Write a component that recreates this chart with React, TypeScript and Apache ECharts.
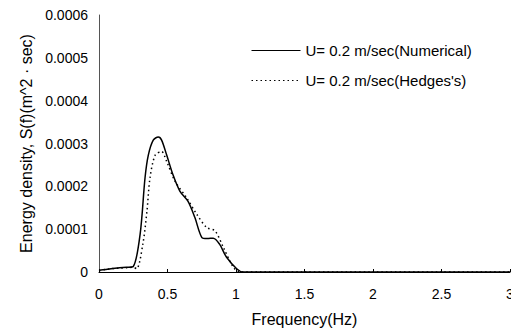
import React, { useEffect, useRef } from "react";
import * as echarts from "echarts";

const numericalX = [0, 0.05, 0.1, 0.15, 0.2, 0.25, 0.3, 0.336, 0.36, 0.396, 0.433, 0.457, 0.494, 0.54, 0.59, 0.65, 0.7, 0.75, 0.79, 0.834, 0.88, 0.93, 1.005, 1.05, 1.5, 2, 2.5, 3];
const numericalY = [0.000004, 0.000006, 0.000008, 0.00001, 0.000011, 0.000013, 0.000088, 0.00022, 0.000273, 0.000308, 0.000315, 0.000308, 0.000273, 0.000227, 0.000189, 0.000165, 0.000127, 0.000081, 0.000078, 0.000079, 0.000065, 0.000035, 0.0000077, 0, 0, 0, 0, 0];

const hedgesX = [0, 0.05, 0.1, 0.15, 0.2, 0.25, 0.275, 0.32, 0.35, 0.372, 0.41, 0.457, 0.494, 0.555, 0.64, 0.713, 0.786, 0.847, 0.907, 0.98, 1.03, 1.5, 2, 2.5, 3];
const hedgesY = [0.000003, 0.000006, 0.000008, 0.000009, 0.00001, 0.000011, 0.0000077, 0.000065, 0.000142, 0.000219, 0.000273, 0.000281, 0.000258, 0.000212, 0.000173, 0.000135, 0.000104, 0.000096, 0.000058, 0.0000115, 0, 0, 0, 0, 0];

const xTicks = [0, 0.5, 1, 1.5, 2, 2.5, 3];
const yTicks = [0, 0.0001, 0.0002, 0.0003, 0.0004, 0.0005, 0.0006];

const seriesNames = ["U= 0.2 m/sec(Numerical)", "U= 0.2 m/sec(Hedges's)"];

export default function App() {
  const ref = useRef<HTMLDivElement>(null);
  useEffect(() => {
    if (!ref.current) return;
    const chart = echarts.init(ref.current, undefined, { renderer: "svg" });
    const font = "Liberation Sans, Arial, sans-serif";
    chart.setOption({
      animation: false,
      backgroundColor: "#ffffff",
      textStyle: { fontFamily: font, color: "#000" },
      grid: { left: 99, right: 9, top: 15, bottom: 57, containLabel: false },
      legend: {
        orient: "vertical",
        left: 246,
        top: 38,
        itemWidth: 49,
        itemHeight: 14,
        itemGap: 15,
        itemStyle: { opacity: 0 },
        lineStyle: { width: 1 },
        textStyle: { fontFamily: font, fontSize: 15, color: "#000" },
        data: seriesNames,
      },
      xAxis: {
        type: "value",
        min: 0,
        max: 3,
        interval: 0.5,
        name: "Frequency(Hz)",
        nameLocation: "middle",
        nameGap: 39,
        nameTextStyle: { fontFamily: font, fontSize: 16, color: "#000" },
        axisLine: { show: true, lineStyle: { color: "#000", width: 1 } },
        axisTick: { show: true, inside: true, length: 3, lineStyle: { color: "#000" } },
        axisLabel: {
          fontFamily: font,
          fontSize: 14,
          color: "#000",
          margin: 15,
          formatter: (v: number) => (xTicks.includes(v) ? String(v) : ""),
        },
        splitLine: { show: false },
      },
      yAxis: {
        type: "value",
        min: 0,
        max: 0.0006,
        interval: 0.0001,
        name: "Energy density, S(f)(m^2 · sec)",
        nameLocation: "middle",
        nameGap: 62,
        nameTextStyle: { fontFamily: font, fontSize: 16, color: "#000" },
        axisLine: { show: true, lineStyle: { color: "#555", width: 1 } },
        axisTick: { show: false },
        axisLabel: {
          fontFamily: font,
          fontSize: 14,
          color: "#000",
          margin: 11,
          formatter: (v: number) => {
            const i = yTicks.findIndex((t) => Math.abs(t - v) < 1e-12);
            return i === 0 ? "0" : v.toFixed(4);
          },
        },
        splitLine: { show: false },
      },
      series: [
        {
          name: seriesNames[0],
          type: "line",
          data: numericalX.map((x, i) => [x, numericalY[i]]),
          showSymbol: false,
          symbol: "none",
          smooth: 0.3,
          lineStyle: { color: "#000", width: 1.5, type: "solid" },
          itemStyle: { color: "#000" },
        },
        {
          name: seriesNames[1],
          type: "line",
          data: hedgesX.map((x, i) => [x, hedgesY[i]]),
          showSymbol: false,
          symbol: "none",
          smooth: 0.3,
          lineStyle: { color: "#000", width: 1.5, type: [1.5, 3] },
          itemStyle: { color: "#000" },
        },
      ],
    });
    return () => chart.dispose();
  }, []);
  return <div ref={ref} style={{ width: 519, height: 332, margin: "-8px 0 0 -8px" }} />;
}
